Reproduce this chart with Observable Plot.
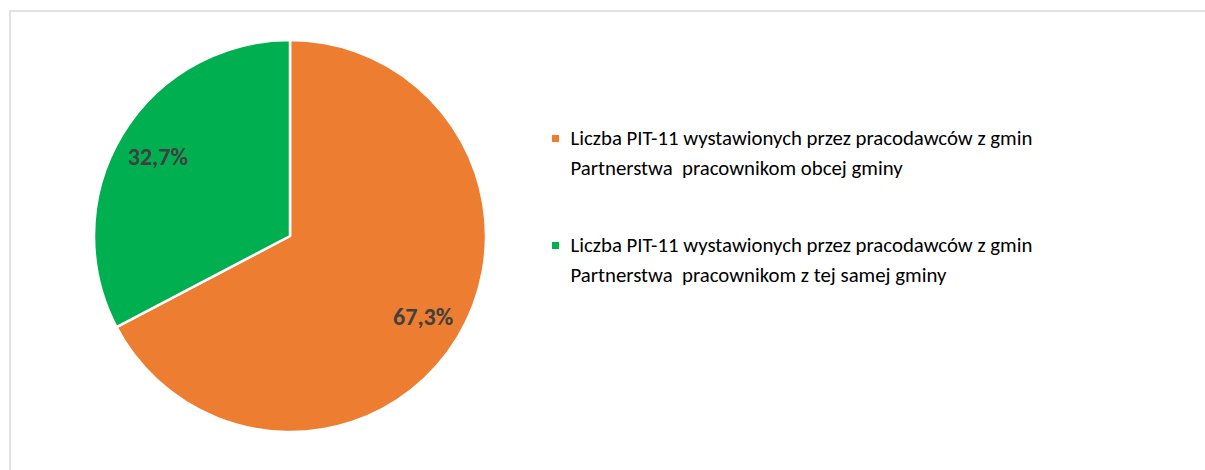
<!DOCTYPE html>
<html>
<head>
<meta charset="utf-8">
<script src="https://cdn.jsdelivr.net/npm/d3@7"></script>
<script src="https://cdn.jsdelivr.net/npm/@observablehq/plot@0.6"></script>
<style>
  html, body { margin: 0; padding: 0; background: #fff; }
  #chart svg { display: block; }
</style>
</head>
<body>
<div id="chart"></div>
<script>
// ---- data ----
const categories = [
  "Liczba PIT-11 wystawionych przez pracodawców z gmin\nPartnerstwa  pracownikom obcej gminy",
  "Liczba PIT-11 wystawionych przez pracodawców z gmin\nPartnerstwa  pracownikom z tej samej gminy"
];
const shares = [67.3, 32.7];
const shareLabels = ["67,3%", "32,7%"];
const colors = ["#ED7D31", "#00B050"];

// ---- layout ----
const W = 1205, H = 470;
const cx = 290, cy = 236, R = 196;
const labelR = 155;
const font = "Carlito, Lato, 'Liberation Sans', sans-serif";

const data = categories.map((c, i) => ({category: c, value: shares[i], label: shareLabels[i], color: colors[i]}));
const arcs = d3.pie().sort(null).value(d => d.value)(data);
const arcGen = d3.arc().innerRadius(0).outerRadius(R);
const labelArc = d3.arc().innerRadius(labelR).outerRadius(labelR);
const labelData = arcs.map(a => {
  const [dx, dy] = labelArc.centroid(a);
  return {x: cx + dx, y: cy + dy, label: a.data.label};
});

const legendRows = [];
categories.forEach((c, i) => {
  c.split("\n").forEach((line, j) => {
    legendRows.push({x: 570, y: 138 + i * 107 + j * 30, text: line, first: j === 0, color: colors[i]});
  });
});

function pieMark(index, scales) {
  const g = d3.create("svg:g");
  const ox = scales.x(cx), oy = scales.y(cy);
  g.selectAll("path")
    .data(arcs)
    .join("path")
    .attr("transform", `translate(${ox},${oy})`)
    .attr("d", arcGen)
    .attr("fill", d => d.data.color)
    .attr("stroke", "#fff")
    .attr("stroke-width", 2.5)
    .attr("stroke-linejoin", "round");
  return g.node();
}

const chart = Plot.plot({
  width: W,
  height: H,
  margin: 0,
  x: {domain: [0, W], range: [0, W], axis: null},
  y: {domain: [0, H], range: [0, H], axis: null},
  style: {fontFamily: font, background: "#fff"},
  marks: [
    Plot.ruleY([10.5], {x1: 9.5, x2: W, stroke: "#d9d9d9", strokeWidth: 1.5}),
    Plot.ruleX([9.5], {y1: 10.5, y2: H, stroke: "#d9d9d9", strokeWidth: 1.5}),
    pieMark,
    Plot.text(labelData, {x: "x", y: "y", dy: 1, text: "label", fill: "#404040", fontWeight: "bold", fontSize: 24, fontFamily: font}),
    Plot.dot(legendRows.filter(d => d.first), {x: d => d.x - 15, y: "y", symbol: "square", r: 4, fill: "color", stroke: null}),
    Plot.text(legendRows, {x: "x", y: "y", text: "text", textAnchor: "start", fill: "#000", fontSize: 20.8, fontFamily: font})
  ]
});
chart.querySelectorAll("text").forEach(t => t.setAttribute("xml:space", "preserve"));
chart.style.whiteSpace = "pre";
document.getElementById("chart").appendChild(chart);
</script>
</body>
</html>
